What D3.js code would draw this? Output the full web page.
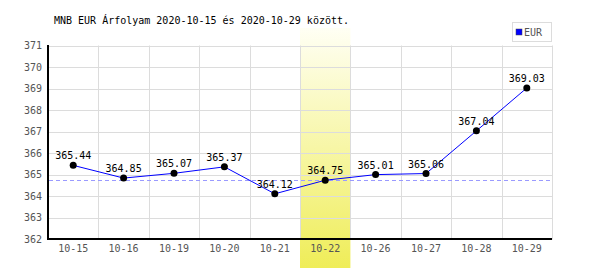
<!DOCTYPE html>
<html>
<head>
<meta charset="utf-8">
<script src="https://cdn.jsdelivr.net/npm/d3@7"></script>
<style>
  body { margin: 0; background: #fff; }
  svg { display: block; }
  text { font-family: 'DejaVu Sans Mono', monospace; font-size: 10px; }
</style>
</head>
<body>
<script>
const dates = ['10-15', '10-16', '10-19', '10-20', '10-21', '10-22', '10-26', '10-27', '10-28', '10-29']
const rates = [365.44, 364.85, 365.07, 365.37, 364.12, 364.75, 365.01, 365.06, 367.04, 369.03]
const yTicks = [362, 363, 364, 365, 366, 367, 368, 369, 370, 371]
const highlightDate = '10-22'
const refValue = 364.75
const title = 'MNB EUR Árfolyam 2020-10-15 és 2020-10-29 között.'
const seriesName = 'EUR'

const width = 600
const height = 270

const svg = d3.select('body').append('svg')
  .attr('width', width)
  .attr('height', height)

const x = d3.scaleBand().domain(dates).range([48, 552])
const y = d3.scaleLinear().domain([362, 371]).range([239.5, 45.5])

// gradient for the highlighted day
const grad = svg.append('defs').append('linearGradient')
  .attr('id', 'hl')
  .attr('x1', 0).attr('y1', 0).attr('x2', 0).attr('y2', 1)
grad.append('stop').attr('offset', '0%').attr('stop-color', '#fffff4')
grad.append('stop').attr('offset', '100%').attr('stop-color', '#efed58')

svg.append('rect')
  .attr('x', x(highlightDate))
  .attr('y', 28)
  .attr('width', x.bandwidth())
  .attr('height', 240)
  .attr('fill', 'url(#hl)')

// grid
const grid = svg.append('g').attr('stroke', '#dcdcdc').attr('stroke-width', 1)
grid.selectAll('line.h')
  .data(yTicks.slice(1))
  .enter().append('line')
  .attr('class', 'h')
  .attr('x1', 48).attr('x2', 552)
  .attr('y1', d => Math.round(y(d)) + 0.5)
  .attr('y2', d => Math.round(y(d)) + 0.5)
grid.selectAll('line.v')
  .data(dates)
  .enter().append('line')
  .attr('class', 'v')
  .attr('x1', d => Math.round(x(d) + x.bandwidth()) + 0.5)
  .attr('x2', d => Math.round(x(d) + x.bandwidth()) + 0.5)
  .attr('y1', 45.5).attr('y2', 239.5)

// legend
svg.append('rect')
  .attr('x', 512.5).attr('y', 22.5)
  .attr('width', 39).attr('height', 19)
  .attr('fill', '#fff').attr('stroke', '#dcdcdc')
svg.append('rect')
  .attr('x', 516).attr('y', 29)
  .attr('width', 6).attr('height', 6)
  .attr('fill', '#0000ff').attr('stroke', '#444').attr('stroke-width', 0.5)
svg.append('text')
  .attr('x', 524).attr('y', 36)
  .attr('fill', '#555')
  .text(seriesName)

// title
svg.append('text')
  .attr('x', 54).attr('y', 24)
  .attr('fill', '#000')
  .text(title)

// axes
svg.append('line')
  .attr('x1', 48).attr('x2', 48)
  .attr('y1', 45).attr('y2', 240)
  .attr('stroke', '#000').attr('stroke-width', 2)
svg.append('line')
  .attr('x1', 47).attr('x2', 552)
  .attr('y1', 239).attr('y2', 239)
  .attr('stroke', '#000').attr('stroke-width', 2)

svg.append('g').selectAll('text')
  .data(yTicks)
  .enter().append('text')
  .attr('x', 42)
  .attr('y', d => y(d) + 3.5)
  .attr('text-anchor', 'end')
  .attr('fill', '#555')
  .text(d => d)

svg.append('g').selectAll('text')
  .data(dates)
  .enter().append('text')
  .attr('x', d => x(d) + x.bandwidth() / 2)
  .attr('y', 252)
  .attr('text-anchor', 'middle')
  .attr('fill', '#555')
  .text(d => d)

// reference line
svg.append('line')
  .attr('x1', 49).attr('x2', 552)
  .attr('y1', Math.round(y(refValue)) + 0.5)
  .attr('y2', Math.round(y(refValue)) + 0.5)
  .attr('stroke', '#9a9aff')
  .attr('stroke-dasharray', '4,3')

// series
const pts = dates.map((d, i) => ({ date: d, value: rates[i] }))
const line = d3.line()
  .x(d => x(d.date) + x.bandwidth() / 2)
  .y(d => y(d.value))

svg.append('path')
  .datum(pts)
  .attr('d', line)
  .attr('fill', 'none')
  .attr('stroke', '#0000ff')
  .attr('stroke-width', 1)

svg.append('g').selectAll('circle')
  .data(pts)
  .enter().append('circle')
  .attr('cx', d => x(d.date) + x.bandwidth() / 2)
  .attr('cy', d => y(d.value))
  .attr('r', 3.5)
  .attr('fill', '#000')

svg.append('g').selectAll('text')
  .data(pts)
  .enter().append('text')
  .attr('x', d => x(d.date) + x.bandwidth() / 2)
  .attr('y', d => y(d.value) - 6)
  .attr('text-anchor', 'middle')
  .attr('fill', '#000')
  .text(d => d.value.toFixed(2))
</script>
</body>
</html>
